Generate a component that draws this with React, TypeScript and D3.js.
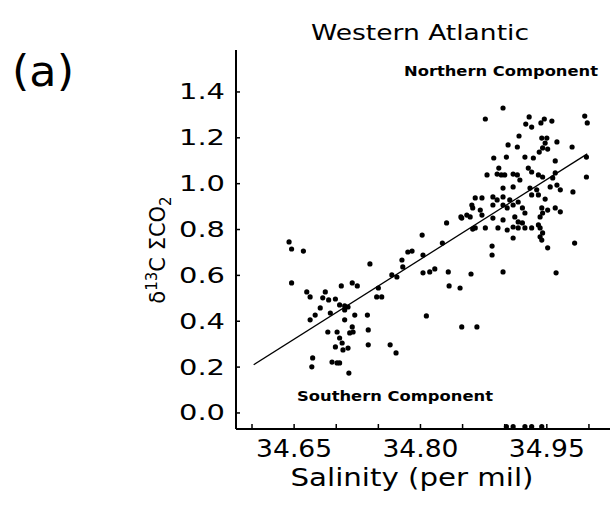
import React from "react";
import * as d3 from "d3";

// ---- data (salinity in per mil, δ13C of ΣCO2 in per mil) ----
const northernPoints: [number, number][] = [
  [34.898,1.330],[34.877,1.282],[34.929,1.291],[34.925,1.260],[34.932,1.247],[34.943,1.265],[34.947,1.282],[34.956,1.273],[34.995,1.295],[34.998,1.265],
  [34.917,1.208],[34.944,1.199],[34.950,1.199],[34.948,1.177],[34.962,1.182],[34.904,1.169],[34.915,1.160],[34.945,1.156],[34.951,1.151],[34.980,1.160],
  [34.941,1.138],[34.887,1.112],[34.902,1.116],[34.924,1.116],[34.934,1.112],[34.960,1.099],[34.997,1.116],[34.893,1.068],[34.896,1.038],[34.879,1.038],
  [34.891,1.042],[34.900,1.038],[34.910,1.042],[34.915,1.038],[34.928,1.068],[34.932,1.051],[34.940,1.038],[34.945,1.029],[34.960,1.047],[34.957,1.025],
  [34.997,1.029],[34.918,1.016],[34.898,0.981],[34.910,0.986],[34.930,0.981],[34.938,0.973],[34.932,0.951],[34.940,0.951],[34.954,0.986],[34.962,0.994],
  [34.966,0.973],[34.981,0.964],[34.865,0.938],[34.873,0.938],[34.886,0.942],[34.891,0.929],[34.898,0.942],[34.906,0.929],[34.910,0.907],[34.916,0.920],
  [34.948,0.933],[34.861,0.907],[34.862,0.894],[34.871,0.885],[34.886,0.907],[34.898,0.907],[34.903,0.894],[34.921,0.894],[34.924,0.872],[34.944,0.894],
  [34.951,0.885],[34.960,0.894],[34.945,0.872],[34.966,0.877],[34.849,0.850],[34.855,0.863],[34.859,0.855],[34.873,0.863],[34.886,0.850],[34.898,0.842],
  [34.912,0.855],[34.916,0.833],[34.921,0.829],[34.942,0.855],[34.865,0.807],[34.877,0.807],[34.892,0.807],[34.903,0.798],[34.910,0.811],[34.916,0.807],
  [34.924,0.807],[34.932,0.807],[34.940,0.820],[34.942,0.807],[34.945,0.785],[34.942,0.768],[34.910,0.763],[34.944,0.754],[34.951,0.720],[34.983,0.741],
  [34.885,0.728],[34.885,0.689],
];

const middlePoints: [number, number][] = [
  [34.898,0.615],[34.961,0.611],[34.849,0.375],[34.867,0.375],[34.807,0.423],[34.803,0.611],[34.811,0.615],[34.817,0.628],[34.833,0.615],[34.834,0.554],
  [34.847,0.545],[34.860,0.606],[34.802,0.776],[34.790,0.706],[34.778,0.667],[34.779,0.637],[34.826,0.741],[34.831,0.829],[34.862,0.802],[34.848,0.855],
  [34.803,0.689],[34.785,0.702],[34.740,0.650],[34.766,0.602],[34.772,0.593],[34.750,0.545],[34.748,0.506],[34.754,0.506],
];

const southernPoints: [number, number][] = [
  [34.644,0.746],[34.647,0.715],[34.661,0.706],[34.647,0.567],[34.665,0.528],[34.669,0.506],[34.684,0.502],[34.687,0.528],[34.691,0.493],[34.699,0.497],
  [34.706,0.554],[34.719,0.567],[34.725,0.554],[34.710,0.467],[34.714,0.462],[34.681,0.458],[34.675,0.427],[34.669,0.406],[34.693,0.436],[34.704,0.471],
  [34.710,0.449],[34.722,0.427],[34.737,0.427],[34.710,0.406],[34.719,0.375],[34.720,0.353],[34.716,0.349],[34.690,0.353],[34.701,0.353],[34.738,0.362],
  [34.704,0.327],[34.707,0.305],[34.699,0.288],[34.708,0.275],[34.714,0.283],[34.738,0.297],[34.764,0.297],[34.771,0.262],[34.672,0.240],[34.671,0.201],
  [34.695,0.222],[34.701,0.218],[34.704,0.218],[34.715,0.174],
];

const axisPoints: [number, number][] = [
  [34.902,-0.06],[34.910,-0.06],[34.924,-0.06],[34.932,-0.06],[34.944,-0.06],
];

const fitSalinity = [34.602, 34.998];
const fitD13C = [0.21, 1.13];

const xTicks = [34.6, 34.65, 34.7, 34.75, 34.8, 34.85, 34.9, 34.95, 35.0];
const xTickLabels = ["34.65", "34.80", "34.95"];
const yTicks = [0, 0.2, 0.4, 0.6, 0.8, 1.0, 1.2, 1.4];

const W = 615;
const H = 505;
const FONT = "'DejaVu Sans', sans-serif";

export default function App() {
  const x = d3.scaleLinear().domain([34.581, 35.025]).range([236, 610]);
  const y = d3.scaleLinear().domain([-0.07, 1.583]).range([429, 50]);
  const allPoints = [...northernPoints, ...middlePoints, ...southernPoints, ...axisPoints];
  const line = d3.line<number>().x((_, i) => x(fitSalinity[i])).y((d) => y(d));

  return (
    <svg
      width={W}
      height={H}
      style={{ position: "absolute", left: 0, top: 0, background: "#fff" }}
      fontFamily={FONT}
      fill="#000"
    >
      <rect width={W} height={H} fill="#fff" />
      {/* panel letter */}
      <text x={12} y={86} fontSize={42} fill="#000" textLength={62} lengthAdjust="spacingAndGlyphs">(a)</text>
      {/* title */}
      <text x={420} y={40} fontSize={22} fill="#000" textAnchor="middle" textLength={218} lengthAdjust="spacingAndGlyphs">Western  Atlantic</text>
      <text x={404} y={76} fontSize={14} fill="#000" fontWeight="bold" textLength={194} lengthAdjust="spacingAndGlyphs">Northern  Component</text>
      <text x={297} y={401} fontSize={14} fill="#000" fontWeight="bold" textLength={196} lengthAdjust="spacingAndGlyphs">Southern  Component</text>

      {/* axes */}
      <line x1={x(34.581)} x2={x(34.581)} y1={y(1.583)} y2={y(-0.07)} stroke="#000" strokeWidth={2} />
      <line x1={x(34.581)} x2={x(35.025)} y1={y(-0.07)} y2={y(-0.07)} stroke="#000" strokeWidth={2} />
      {xTicks.map((t) => (
        <line key={"xt" + t} x1={x(t)} x2={x(t)} y1={y(-0.07)} y2={y(-0.07) - 5} stroke="#000" strokeWidth={1.5} />
      ))}
      {yTicks.map((t) => (
        <line key={"yt" + t} x1={x(34.581)} x2={x(34.581) + 4} y1={y(t)} y2={y(t)} stroke="#000" strokeWidth={1.5} />
      ))}
      {xTickLabels.map((l) => (
        <text key={"xl" + l} x={x(+l)} y={457} fontSize={24} fill="#000" textAnchor="middle" textLength={76} lengthAdjust="spacingAndGlyphs">{l}</text>
      ))}
      {yTicks.map((t) => (
        <text key={"yl" + t} x={225} y={y(t) + 7.5} fontSize={21} fill="#000" textAnchor="end" textLength={46} lengthAdjust="spacingAndGlyphs">{t.toFixed(1)}</text>
      ))}
      <text x={412} y={486} fontSize={24} fill="#000" textAnchor="middle" textLength={243} lengthAdjust="spacingAndGlyphs">Salinity  (per  mil)</text>
      <g transform="translate(165, 250) rotate(-90)">
        <text x={0} y={0} fontSize={21} fill="#000" textAnchor="middle">
          <tspan>δ</tspan>
          <tspan dy={-8} fontSize={15}>13</tspan>
          <tspan dy={8}>C  ΣCO</tspan>
          <tspan dy={6} fontSize={15}>2</tspan>
        </text>
      </g>

      {/* regression line */}
      <path d={line(fitD13C) || ""} fill="none" stroke="#000" strokeWidth={1.3} />

      {/* points */}
      {allPoints.map((p, i) => (
        <circle key={i} cx={x(p[0])} cy={y(p[1])} r={2.6} fill="#000" />
      ))}
    </svg>
  );
}
